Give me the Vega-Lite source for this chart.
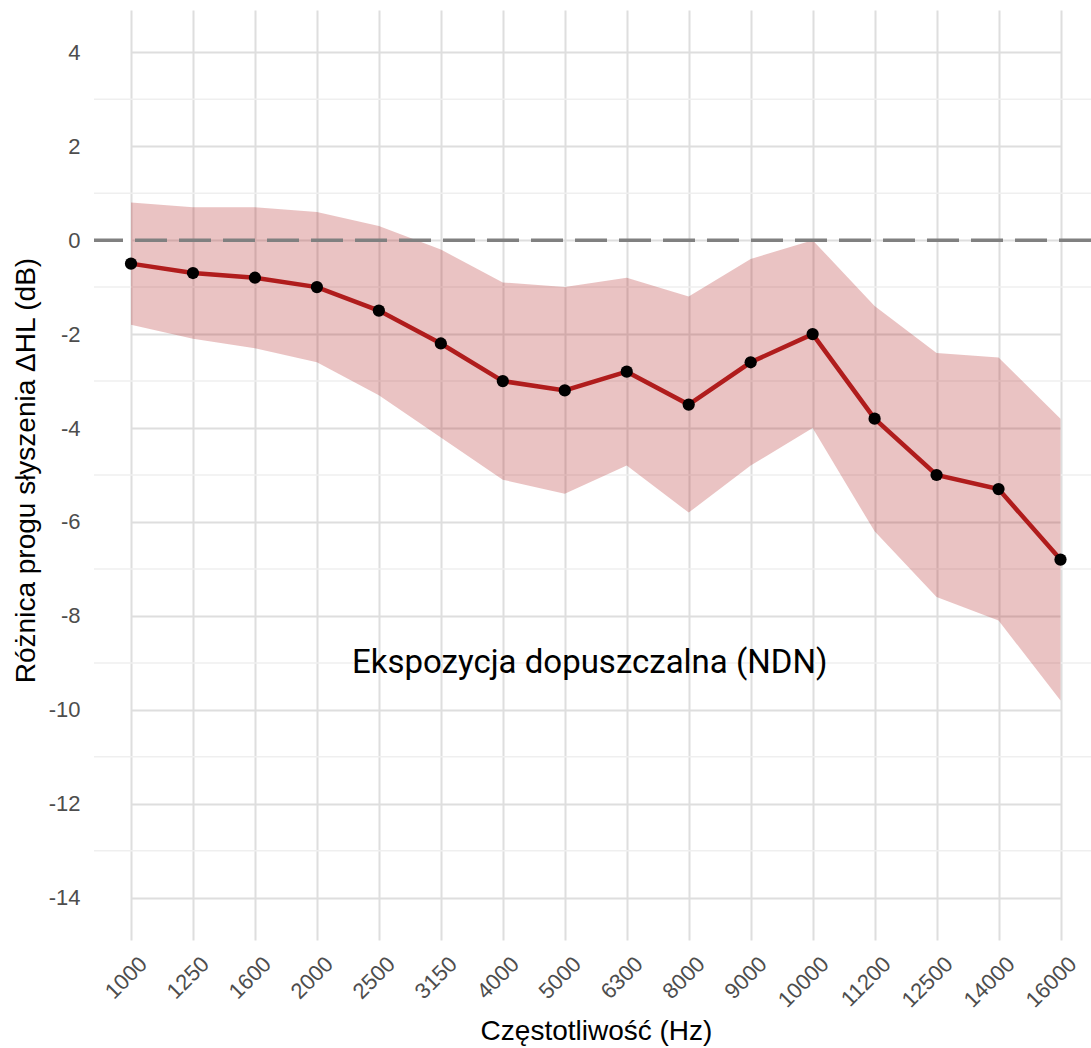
{
  "$schema": "https://vega.github.io/schema/vega-lite/v6.json",
  "autosize": "none",
  "width": 997,
  "height": 930,
  "padding": {"left": 94, "top": 10, "right": 0, "bottom": 108},
  "background": "white",
  "config": {
    "view": {"stroke": null},
    "font": "Liberation Sans"
  },
  "datasets": {
    "hl": [
      {"freq": "1000", "mean": -0.5, "lo": -1.8, "hi": 0.8},
      {"freq": "1250", "mean": -0.7, "lo": -2.1, "hi": 0.7},
      {"freq": "1600", "mean": -0.8, "lo": -2.3, "hi": 0.7},
      {"freq": "2000", "mean": -1.0, "lo": -2.6, "hi": 0.6},
      {"freq": "2500", "mean": -1.5, "lo": -3.3, "hi": 0.3},
      {"freq": "3150", "mean": -2.2, "lo": -4.2, "hi": -0.2},
      {"freq": "4000", "mean": -3.0, "lo": -5.1, "hi": -0.9},
      {"freq": "5000", "mean": -3.2, "lo": -5.4, "hi": -1.0},
      {"freq": "6300", "mean": -2.8, "lo": -4.8, "hi": -0.8},
      {"freq": "8000", "mean": -3.5, "lo": -5.8, "hi": -1.2},
      {"freq": "9000", "mean": -2.6, "lo": -4.8, "hi": -0.4},
      {"freq": "10000", "mean": -2.0, "lo": -4.0, "hi": 0.0},
      {"freq": "11200", "mean": -3.8, "lo": -6.2, "hi": -1.4},
      {"freq": "12500", "mean": -5.0, "lo": -7.6, "hi": -2.4},
      {"freq": "14000", "mean": -5.3, "lo": -8.1, "hi": -2.5},
      {"freq": "16000", "mean": -6.8, "lo": -9.8, "hi": -3.8}
    ],
    "minor": [
      {"v": -13}, {"v": -11}, {"v": -9}, {"v": -7}, {"v": -5},
      {"v": -3}, {"v": -1}, {"v": 1}, {"v": 3}
    ],
    "zero": [{"v": 0}],
    "note": [{"freq": "5000", "v": -9, "label": "Ekspozycja dopuszczalna (NDN)"}]
  },
  "layer": [
    {
      "data": {"name": "minor"},
      "mark": {"type": "rule", "color": "#EFEFEF", "strokeWidth": 1.5},
      "encoding": {
        "y": {"field": "v", "type": "quantitative", "scale": {"domain": [-14.9, 4.9], "nice": false, "zero": false}}
      }
    },
    {
      "data": {"name": "hl"},
      "mark": {"type": "area", "color": "#B22222", "opacity": 0.27},
      "encoding": {
        "x": {
          "field": "freq", "type": "ordinal",
          "scale": {"type": "point", "domain": ["1000","1250","1600","2000","2500","3150","4000","5000","6300","8000","9000","10000","11200","12500","14000","16000"], "range": [37, 966.5], "padding": 0},
          "axis": {
            "title": "Częstotliwość (Hz)",
            "domain": false, "ticks": false,
            "grid": true, "gridColor": "#DEDEDE", "gridWidth": 2,
            "labelAngle": -45, "labelAlign": "right", "labelBaseline": "top",
            "labelFont": "Liberation Sans", "labelFontSize": 22, "labelColor": "#4D4D4D",
            "labelPadding": 13, "labelOffset": 5,
            "titleFont": "Liberation Sans", "titleFontSize": 28, "titleFontWeight": "normal", "titleColor": "#000000",
            "titleBaseline": "alphabetic", "titleY": 99, "titleX": 502, "titleAnchor": "middle"
          }
        },
        "y": {
          "field": "hi", "type": "quantitative",
          "scale": {"domain": [-14.9, 4.9], "nice": false, "zero": false},
          "axis": {
            "title": "Różnica progu słyszenia ΔHL (dB)",
            "values": [-14, -12, -10, -8, -6, -4, -2, 0, 2, 4],
            "labelExpr": "replace(datum.label, '\u2212', '-')",
            "domain": false, "ticks": false,
            "grid": true, "gridColor": "#DEDEDE", "gridWidth": 2,
            "labelFont": "Liberation Sans", "labelFontSize": 22, "labelColor": "#4D4D4D",
            "labelPadding": 14,
            "titleFont": "Liberation Sans", "titleFontSize": 28, "titleFontWeight": "normal", "titleColor": "#000000",
            "titleBaseline": "alphabetic", "titleX": -60, "titleY": 460, "titleAngle": -90
          }
        },
        "y2": {"field": "lo"}
      }
    },
    {
      "data": {"name": "zero"},
      "mark": {"type": "rule", "color": "#808080", "strokeWidth": 3.5, "strokeDash": [32, 12]},
      "encoding": {
        "y": {"field": "v", "type": "quantitative"}
      }
    },
    {
      "data": {"name": "hl"},
      "mark": {"type": "line", "color": "#B01C1C", "strokeWidth": 4.5},
      "encoding": {
        "x": {"field": "freq", "type": "ordinal"},
        "y": {"field": "mean", "type": "quantitative"}
      }
    },
    {
      "data": {"name": "hl"},
      "mark": {"type": "circle", "color": "#000000", "opacity": 1, "size": 150},
      "encoding": {
        "x": {"field": "freq", "type": "ordinal"},
        "y": {"field": "mean", "type": "quantitative"}
      }
    },
    {
      "data": {"name": "note"},
      "mark": {"type": "text", "font": "Roboto", "fontSize": 33, "color": "#000000", "align": "center", "baseline": "middle", "dx": 25},
      "encoding": {
        "x": {"field": "freq", "type": "ordinal"},
        "y": {"field": "v", "type": "quantitative"},
        "text": {"field": "label"}
      }
    }
  ]
}
